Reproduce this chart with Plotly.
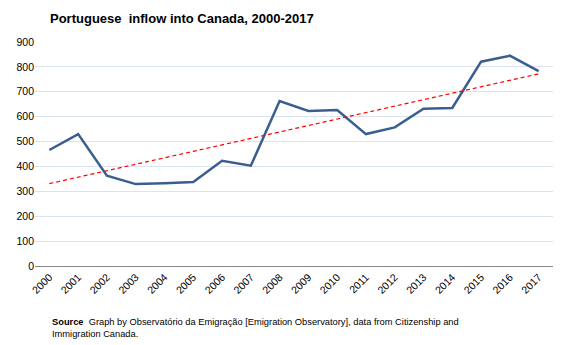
import plotly.graph_objects as go

years = [str(y) for y in range(2000, 2018)]
inflow = [466, 530, 363, 329, 332, 337, 423, 403, 663, 623, 627, 530, 557, 632, 635, 821, 845, 783]
trend_years = ["2000", "2017"]
trend_values = [331, 772]
y_ticks = [0, 100, 200, 300, 400, 500, 600, 700, 800, 900]

fig = go.Figure()
fig.add_trace(go.Scatter(x=years, y=inflow, mode="lines",
                         line=dict(color="#3a5f8f", width=2.5), showlegend=False))
fig.add_trace(go.Scatter(x=trend_years, y=trend_values, mode="lines",
                         line=dict(color="#ff0000", width=1.2, dash="4px,3px"), showlegend=False))

font = "Liberation Sans, Arial, sans-serif"
fig.update_layout(
    width=561, height=345,
    margin=dict(l=35, r=8, t=42, b=79),
    paper_bgcolor="white", plot_bgcolor="white",
    font=dict(family=font, size=11, color="#000000"),
    title=dict(text="<b>Portuguese  inflow into Canada, 2000-2017</b>",
               x=50/561, xanchor="left", y=1-18/345, yanchor="middle",
               font=dict(size=13, family=font, color="#000000")),
    xaxis=dict(type="category", range=[-0.5, 17.5], tickangle=-45,
               showgrid=False, showline=True, linecolor="#888888", linewidth=1,
               ticks="", tickfont=dict(size=10.5)),
    yaxis=dict(range=[0, 900], tickvals=y_ticks, showgrid=True, gridcolor="#dbe4ee",
               gridwidth=1, zeroline=False, showline=False, ticks="",
               tickfont=dict(size=10.5)),
)
fig.add_annotation(
    text="<b>Source</b>  Graph by Observatório da Emigração [Emigration Observatory], data from Citizenship and<br>Immigration Canada.",
    xref="paper", yref="paper", x=(50 - 35) / 518, xanchor="left", align="left",
    y=0, yanchor="top", yshift=-49, showarrow=False,
    font=dict(size=9.3, family=font, color="#000000"))
fig.write_html("out.html")
